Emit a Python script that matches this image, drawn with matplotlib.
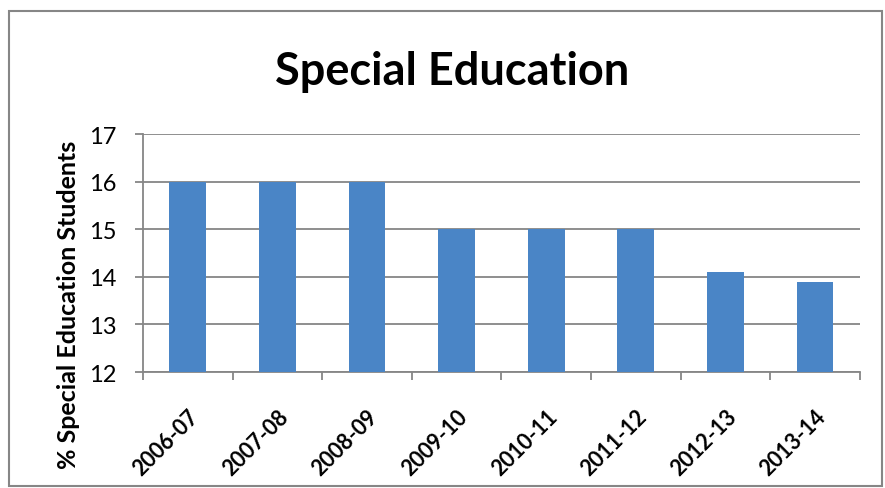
import numpy as np
import matplotlib
matplotlib.use("Agg")
from matplotlib import pyplot as plt
from matplotlib.patches import Rectangle

years = ['2006-07', '2007-08', '2008-09', '2009-10', '2010-11', '2011-12', '2012-13', '2013-14']
pct_special_ed = [16, 16, 16, 15, 15, 15, 14.1, 13.9]

plt.rcParams['font.family'] = ['Lato', 'DejaVu Sans']

fig = plt.figure(figsize=(8.85, 4.89), dpi=100)
ax = fig.add_axes([0.1616, 0.2372, 0.81, 0.4867])

x = np.arange(len(years))
ax.bar(x, pct_special_ed, width=0.41, color='#4A85C6', zorder=3)

ax.set_ylim(12, 17)
ax.set_xlim(-0.5, len(years) - 0.5)
ax.set_yticks(range(12, 18))
ax.grid(axis='y', color='#868686', linewidth=1.3, zorder=0)

# category labels in the middle, tick marks on the boundaries (Excel style)
ax.set_xticks(x)
ax.set_xticklabels(years, rotation=45, ha='right', rotation_mode='anchor',
                   fontsize=15.5, fontweight='bold')
ax.tick_params(axis='x', which='major', length=0, pad=24)
ax.set_xticks(np.arange(-0.5, len(years)), minor=True)
ax.tick_params(axis='x', which='minor', length=6, width=1.3, color='#868686')
ax.tick_params(axis='y', length=6, width=1.3, color='#868686', labelsize=17, pad=13)

for s in ['top', 'right']:
    ax.spines[s].set_visible(False)
for s in ['left', 'bottom']:
    ax.spines[s].set_color('#868686')
    ax.spines[s].set_linewidth(1.3)

fig.text(69 / 885, 1 - 305 / 489, '% Special Education Students', rotation=90,
         ha='center', va='center', fontsize=18, fontweight='bold')
fig.text(0.511, 1 - 85 / 489, 'Special Education', ha='center', va='baseline',
         fontsize=32.5, fontweight='bold')

# outer chart border
fig.patches.append(Rectangle((9 / 885, 2 / 489), 873 / 885, 475 / 489,
                             transform=fig.transFigure, fill=False,
                             edgecolor='#868686', linewidth=1.5))

fig.savefig('out.png', dpi=100)
